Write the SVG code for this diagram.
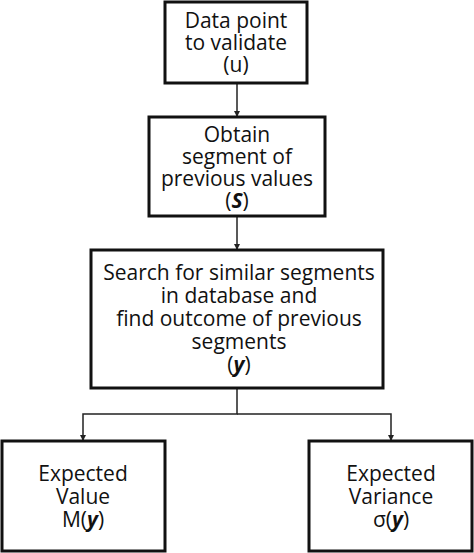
<svg xmlns="http://www.w3.org/2000/svg" width="474" height="553" viewBox="0 0 474 553">
<defs>
<marker id="ah" viewBox="0 0 10 10" refX="10" refY="5" markerWidth="6" markerHeight="6" markerUnits="userSpaceOnUse" orient="auto">
<path d="M0,0 L10,5 L0,10 z" fill="#222"/>
</marker>
<style>
.box{fill:#fff;stroke:#111;stroke-width:3}
.t{font-family:"Open Sans","Liberation Sans",sans-serif;font-size:21px;fill:#111;text-anchor:middle}
.b{font-weight:bold;font-style:italic}
.c{fill:none;stroke:#222;stroke-width:1.5}
</style>
</defs>
<rect width="474" height="553" fill="#fff"/>
<g id="connectors">
<line class="c" x1="237" y1="83" x2="237" y2="117" marker-end="url(#ah)"/>
<line class="c" x1="237" y1="216" x2="237" y2="250" marker-end="url(#ah)"/>
<polyline class="c" points="237,388 237,414 83,414 83,441" marker-end="url(#ah)"/>
<polyline class="c" points="237,414 391,414 391,441" marker-end="url(#ah)"/>
</g>
<g id="n1">
<rect class="box" x="165" y="2" width="142" height="81"/>
<text class="t" x="236" y="28">Data point</text>
<text class="t" x="236" y="50">to validate</text>
<text class="t" x="236" y="72">(u)</text>
</g>
<g id="n2">
<rect class="box" x="149" y="117" width="176" height="99"/>
<text class="t" x="237" y="142">Obtain</text>
<text class="t" x="237" y="164">segment of</text>
<text class="t" x="237" y="186">previous values</text>
<text class="t" x="237" y="208">(<tspan class="b">S</tspan>)</text>
</g>
<g id="n3">
<rect class="box" x="91" y="250" width="292" height="138"/>
<text class="t" x="239" y="280">Search for similar segments</text>
<text class="t" x="239" y="303">in database and</text>
<text class="t" x="239" y="326">find outcome of previous</text>
<text class="t" x="239" y="349">segments</text>
<text class="t" x="239" y="372">(<tspan class="b">y</tspan>)</text>
</g>
<g id="n4">
<rect class="box" x="2" y="441" width="163" height="110"/>
<text class="t" x="83" y="481">Expected</text>
<text class="t" x="83" y="504">Value</text>
<text class="t" x="83" y="527">M(<tspan class="b">y</tspan>)</text>
</g>
<g id="n5">
<rect class="box" x="309" y="441" width="163" height="110"/>
<text class="t" x="391" y="481">Expected</text>
<text class="t" x="391" y="504">Variance</text>
<text class="t" x="391" y="527">σ(<tspan class="b">y</tspan>)</text>
</g>
</svg>
